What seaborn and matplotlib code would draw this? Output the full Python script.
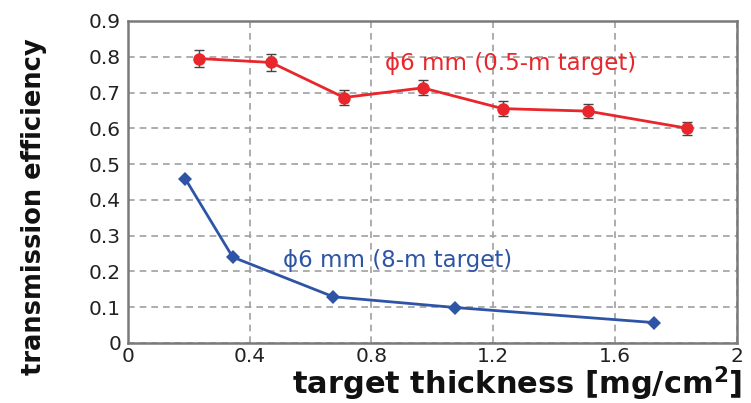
import matplotlib
matplotlib.use("Agg")
import matplotlib.pyplot as plt
import seaborn as sns
import pandas as pd
from matplotlib.ticker import FuncFormatter

# data
red_x = [0.233, 0.470, 0.710, 0.968, 1.231, 1.511, 1.838]
red_y = [0.795, 0.784, 0.686, 0.713, 0.655, 0.648, 0.600]
red_err = [0.025, 0.024, 0.022, 0.021, 0.020, 0.020, 0.018]
blue_x = [0.189, 0.344, 0.675, 1.076, 1.727]
blue_y = [0.458, 0.240, 0.129, 0.099, 0.057]
red_label = "ϕ6 mm (0.5-m target)"
blue_label = "ϕ6 mm (8-m target)"
x_ticks = [0, 0.4, 0.8, 1.2, 1.6, 2.0]
y_ticks = [0, 0.1, 0.2, 0.3, 0.4, 0.5, 0.6, 0.7, 0.8, 0.9]

sns.set_style("white")
plt.rcParams['font.family'] = ['DejaVu Sans']

fig = plt.figure(figsize=(7.51, 4.03), dpi=100)
ax = fig.add_axes([0.1704, 0.149, 0.981 - 0.1704, 0.948 - 0.149])

RED = "#e8262b"
BLUE = "#2e55a5"

red_df = pd.DataFrame({"x": red_x, "y": red_y})
blue_df = pd.DataFrame({"x": blue_x, "y": blue_y})

ax.errorbar(red_x, red_y, yerr=red_err, fmt="none", ecolor="#444444",
            elinewidth=1.0, capsize=3.5, capthick=1.0, zorder=2)
sns.lineplot(data=red_df, x="x", y="y", ax=ax, color=RED, marker="o",
             markersize=9, markeredgewidth=0, linewidth=2, zorder=3)
sns.lineplot(data=blue_df, x="x", y="y", ax=ax, color=BLUE, marker="D",
             markersize=7, markeredgewidth=0, linewidth=2, zorder=3)

ax.set_xlim(0, 2)
ax.set_ylim(0, 0.9)
ax.set_xticks(x_ticks)
ax.set_yticks(y_ticks)
ax.xaxis.set_major_formatter(FuncFormatter(lambda v, p: "0" if v == 0 else ("2" if abs(v-2) < 1e-9 else f"{v:.1f}")))
ax.yaxis.set_major_formatter(FuncFormatter(lambda v, p: "0" if v == 0 else f"{v:.1f}"))
ax.tick_params(axis="both", length=0, labelsize=14.5, colors="#222222", pad=5)
ax.tick_params(axis="x", pad=3)

ax.grid(True, linestyle=(0, (4, 3)), color="#a0a0a0", linewidth=1.2)
for s in ax.spines.values():
    s.set_color("#7a7a7a")
    s.set_linewidth(1.8)

ax.set_xlabel("")
ax.set_ylabel("")

ax.text(0.845, 0.782, red_label, color=RED, fontsize=16.5, va="center", ha="left")
ax.text(0.51, 0.23, blue_label, color=BLUE, fontsize=16.5, va="center", ha="left")

fig.text(0.045, 0.487, "transmission efficiency", rotation=90, fontsize=18.5,
         fontweight="bold", ha="center", va="center", color="#111111")
fig.text(0.988, 0.048, "target thickness [mg/cm$^{\\mathbf{2}}$]", fontsize=22,
         fontweight="bold", ha="right", va="center", color="#111111")

fig.savefig("out.png", dpi=100)
